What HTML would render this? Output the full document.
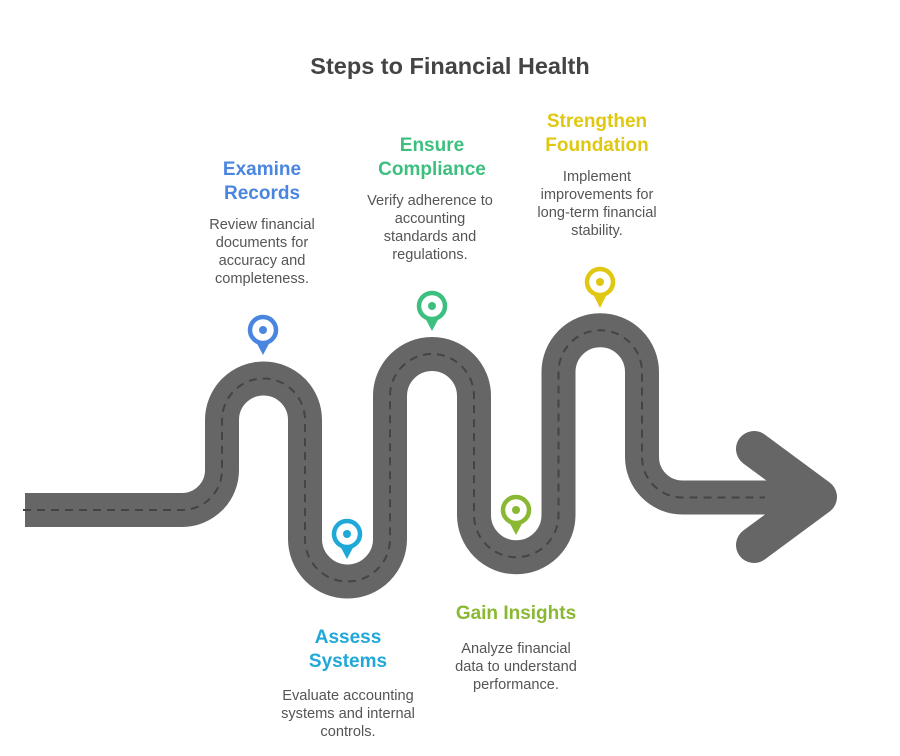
<!DOCTYPE html>
<html><head><meta charset="utf-8"><style>
html,body{margin:0;padding:0;background:#fff;}
svg{display:block;font-family:"Liberation Sans",sans-serif;}
.t{font-weight:bold;font-size:19px;text-anchor:middle;}
.d{font-size:14.6px;fill:#555;text-anchor:middle;}
</style></head><body>
<svg width="900" height="756" viewBox="0 0 900 756" xmlns="http://www.w3.org/2000/svg">
<text x="450" y="74" text-anchor="middle" font-size="23.5" font-weight="bold" fill="#444">Steps to Financial Health</text>

<path d="M25 510 H182 A40 40 0 0 0 222 470 V420 A41.5 41.5 0 0 1 305 420 V539 A42.5 42.5 0 0 0 390 539 V396 A42 42 0 0 1 474 396 V515 A42.25 42.25 0 0 0 558.5 515 V372 A41.75 41.75 0 0 1 642 372 V457 A40.5 40.5 0 0 0 682.5 497.5 H805" fill="none" stroke="#666" stroke-width="34"/>
<polyline points="754,449 819,497 754,545" fill="none" stroke="#666" stroke-width="36" stroke-linecap="round" stroke-linejoin="round"/>
<path d="M23 510 H182 A40 40 0 0 0 222 470 V420 A41.5 41.5 0 0 1 305 420 V539 A42.5 42.5 0 0 0 390 539 V396 A42 42 0 0 1 474 396 V515 A42.25 42.25 0 0 0 558.5 515 V372 A41.75 41.75 0 0 1 642 372 V457 A40.5 40.5 0 0 0 682.5 497.5 H765" fill="none" stroke="#444" stroke-width="2" stroke-dasharray="8 6"/>

<g>
<path d="M254 338 L263 355 L272 338 Z" fill="#4a86e0"/><circle cx="263" cy="330" r="13" fill="#fff" stroke="#4a86e0" stroke-width="4.5"/><circle cx="263" cy="330" r="4" fill="#4a86e0"/>
<path d="M338 542 L347 559 L356 542 Z" fill="#1fa8d8"/><circle cx="347" cy="534" r="13" fill="#fff" stroke="#1fa8d8" stroke-width="4.5"/><circle cx="347" cy="534" r="4" fill="#1fa8d8"/>
<path d="M423 314 L432 331 L441 314 Z" fill="#3dbf7f"/><circle cx="432" cy="306" r="13" fill="#fff" stroke="#3dbf7f" stroke-width="4.5"/><circle cx="432" cy="306" r="4" fill="#3dbf7f"/>
<path d="M507 518 L516 535 L525 518 Z" fill="#8ab833"/><circle cx="516" cy="510" r="13" fill="#fff" stroke="#8ab833" stroke-width="4.5"/><circle cx="516" cy="510" r="4" fill="#8ab833"/>
<path d="M591 290 L600 308 L609 290 Z" fill="#e0c812"/><circle cx="600" cy="282" r="13" fill="#fff" stroke="#e0c812" stroke-width="4.5"/><circle cx="600" cy="282" r="4" fill="#e0c812"/>
</g>

<text class="t" fill="#4a86e0" x="262" y="175">Examine</text>
<text class="t" fill="#4a86e0" x="262" y="199">Records</text>
<text class="d" x="262" y="229">Review financial</text>
<text class="d" x="262" y="247">documents for</text>
<text class="d" x="262" y="265">accuracy and</text>
<text class="d" x="262" y="283">completeness.</text>

<text class="t" fill="#3dbf7f" x="432" y="151">Ensure</text>
<text class="t" fill="#3dbf7f" x="432" y="175">Compliance</text>
<text class="d" x="430" y="205">Verify adherence to</text>
<text class="d" x="430" y="223">accounting</text>
<text class="d" x="430" y="241">standards and</text>
<text class="d" x="430" y="259">regulations.</text>

<text class="t" fill="#e0c812" x="597" y="127">Strengthen</text>
<text class="t" fill="#e0c812" x="597" y="151">Foundation</text>
<text class="d" x="597" y="181">Implement</text>
<text class="d" x="597" y="199">improvements for</text>
<text class="d" x="597" y="217">long-term financial</text>
<text class="d" x="597" y="235">stability.</text>

<text class="t" fill="#8ab833" x="516" y="619">Gain Insights</text>
<text class="d" x="516" y="653">Analyze financial</text>
<text class="d" x="516" y="671">data to understand</text>
<text class="d" x="516" y="689">performance.</text>

<text class="t" fill="#1fa8d8" x="348" y="643">Assess</text>
<text class="t" fill="#1fa8d8" x="348" y="667">Systems</text>
<text class="d" x="348" y="700">Evaluate accounting</text>
<text class="d" x="348" y="718">systems and internal</text>
<text class="d" x="348" y="736">controls.</text>
</svg>
</body></html>
